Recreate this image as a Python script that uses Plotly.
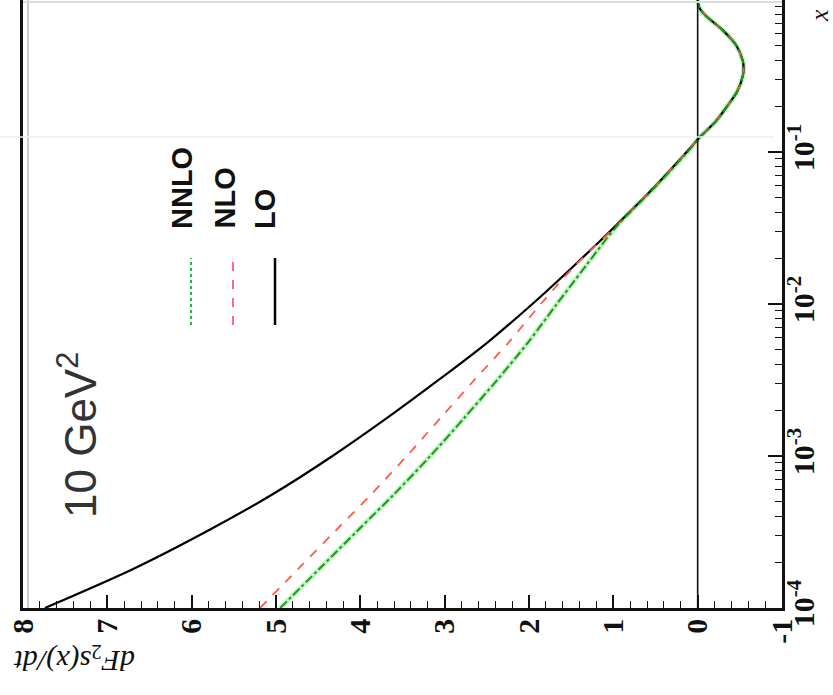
import plotly.graph_objects as go

# x (Bjorken x), log axis
x_vals = [0.0001, 0.00018, 0.00032, 0.00056, 0.001, 0.0018, 0.0032, 0.0056,
          0.01, 0.018, 0.032, 0.056, 0.1, 0.126, 0.158, 0.2, 0.251, 0.316,
          0.355, 0.398, 0.5, 0.631, 0.794, 0.891, 1.0]
lo_vals = [7.74, 6.70, 5.82, 5.04, 4.33, 3.67, 3.06, 2.49,
           1.96, 1.46, 0.99, 0.55, 0.13, -0.03, -0.21, -0.35, -0.47, -0.535,
           -0.545, -0.535, -0.46, -0.30, -0.09, -0.02, 0.0]
nlo_vals = [5.19, 4.74, 4.30, 3.87, 3.45, 3.04, 2.64, 2.24,
            1.86, 1.45, 0.98, 0.55, 0.13, -0.03, -0.21, -0.35, -0.47, -0.535,
            -0.545, -0.535, -0.46, -0.30, -0.09, -0.02, 0.0]
nnlo_vals = [4.95, 4.49, 4.04, 3.60, 3.17, 2.76, 2.37, 2.01,
             1.67, 1.32, 0.97, 0.54, 0.12, -0.03, -0.21, -0.35, -0.47, -0.535,
             -0.545, -0.535, -0.46, -0.30, -0.09, -0.02, 0.0]

value_ticks = [8, 7, 6, 5, 4, 3, 2, 1, 0, -1]
value_ticktext = ["8", "7", "6", "5", "4", "3", "2", "1", "0", "-1"]
x_tickvals = [1e-4, 1e-3, 1e-2, 1e-1]
x_ticktext = ["10<sup>-4</sup>", "10<sup>-3</sup>", "10<sup>-2</sup>", "10<sup>-1</sup>"]
legend_names = ["NNLO", "NLO", "LO"]

SERIF = "Liberation Serif, Times New Roman, serif"
SANS = "Liberation Sans, Arial, sans-serif"

fig = go.Figure()
# rotated chart: horizontal axis = dF/dt value (reversed), vertical axis = x (log)
fig.add_trace(go.Scatter(x=nnlo_vals, y=x_vals, mode="lines", name="NNLO halo",
                         line=dict(color="#c4f2c4", width=5, shape="spline", smoothing=0.8),
                         showlegend=False, hoverinfo="skip"))
fig.add_trace(go.Scatter(x=lo_vals, y=x_vals, mode="lines", name="LO",
                         line=dict(color="#000000", width=2.2, shape="spline", smoothing=0.8)))
fig.add_trace(go.Scatter(x=nlo_vals, y=x_vals, mode="lines", name="NLO",
                         line=dict(color="#ff5a4a", width=1.8, dash="dash", shape="spline", smoothing=0.8)))
fig.add_trace(go.Scatter(x=nnlo_vals, y=x_vals, mode="lines", name="NNLO",
                         line=dict(color="#1a9a1a", width=2, dash="dashdot", shape="spline", smoothing=0.8)))

L, R, T, B = 23, 51, 0, 87
W, H = 833, 695
pw = W - L - R
ph = H - T - B

def px(xp):
    return (xp - L) / pw

def py(yp):
    return (H - B - yp) / ph

shapes = []
# zero line
shapes.append(dict(type="line", xref="x", yref="paper", x0=0, x1=0, y0=0, y1=1,
                   line=dict(color="#111111", width=1.6)))
# inner grey frame line on the left and faint top line
shapes.append(dict(type="line", xref="paper", yref="paper", x0=px(28), x1=px(28), y0=0, y1=1,
                   line=dict(color="#9a9a9a", width=1)))
shapes.append(dict(type="line", xref="paper", yref="paper", x0=0, x1=1, y0=py(2), y1=py(2),
                   line=dict(color="#d8dede", width=2)))
# faint scan line
shapes.append(dict(type="line", xref="paper", yref="paper", x0=-0.03, x1=0.99, y0=py(137), y1=py(137),
                   line=dict(color="#efefef", width=1.5)))

# legend keys (rotated legend)
key_cols = [("#22bb44", "dot", 191), ("#ff6a8a", "dash", 233), ("#000000", "solid", 275)]
for col, dsh, xp in key_cols:
    shapes.append(dict(type="line", xref="paper", yref="paper", x0=px(xp), x1=px(xp),
                       y0=py(325), y1=py(258),
                       line=dict(color=col, width=2.5 if dsh == "solid" else 2, dash=dsh)))

annotations = []
for name, xp in zip(legend_names, [182, 224, 265]):
    annotations.append(dict(text="<b>" + name + "</b>", xref="paper", yref="paper",
                            x=px(xp), y=py(231), xanchor="center", yanchor="bottom",
                            textangle=-90, showarrow=False,
                            font=dict(family=SANS, size=29, color="#111111")))
annotations.append(dict(text="10 GeV<sup>2</sup>", xref="paper", yref="paper",
                        x=px(77), y=py(435), xanchor="center", yanchor="middle",
                        textangle=-90, showarrow=False,
                        font=dict(family=SANS, size=44, color="#333333")))
annotations.append(dict(text="<i>x</i>", xref="paper", yref="paper",
                        x=px(820), y=py(16), xanchor="center", yanchor="middle",
                        textangle=-90, showarrow=False,
                        font=dict(family=SERIF, size=26, color="#111111")))
annotations.append(dict(text="<i>dF</i><sub>2</sub><i>s(x)/dt</i>", xref="paper", yref="paper",
                        x=px(75), y=py(659), xanchor="center", yanchor="middle",
                        textangle=180, showarrow=False,
                        font=dict(family=SERIF, size=30, color="#111111")))

fig.update_layout(
    width=W, height=H,
    margin=dict(l=L, r=R, t=T, b=B, pad=0),
    paper_bgcolor="white", plot_bgcolor="white",
    showlegend=False,
    shapes=shapes, annotations=annotations,
    xaxis=dict(range=[8, -1], tickvals=value_ticks, ticktext=value_ticktext,
               ticks="inside", ticklen=13,
               tickwidth=1.5, tickcolor="#111111", tickangle=-90, ticklabelstandoff=-4,
               tickfont=dict(family=SERIF, size=30, color="#111111", weight="bold"),
               showline=True, linecolor="#111111", linewidth=2.5, mirror=False,
               showgrid=False, zeroline=False,
               minor=dict(ticks="inside", ticklen=7, dtick=0.2, tickcolor="#111111",
                          tickwidth=1.3, showgrid=False)),
    yaxis=dict(type="log", range=[-4, 0], side="right",
               tickvals=x_tickvals, ticktext=x_ticktext, ticks="inside", ticklen=14,
               tickwidth=1.5, tickcolor="#111111", tickangle=-90, ticklabelstandoff=-7,
               tickfont=dict(family=SERIF, size=30, color="#111111", weight="bold"),
               showline=True, linecolor="#111111", linewidth=2.5, mirror=True,
               showgrid=False, zeroline=False,
               minor=dict(ticks="inside", ticklen=7, dtick="D1", tickcolor="#111111",
                          tickwidth=1.3, showgrid=False)),
)

fig.write_html("out.html", config={"displayModeBar": False},
               post_script="document.body.style.margin='0';document.body.style.overflow='hidden';")
